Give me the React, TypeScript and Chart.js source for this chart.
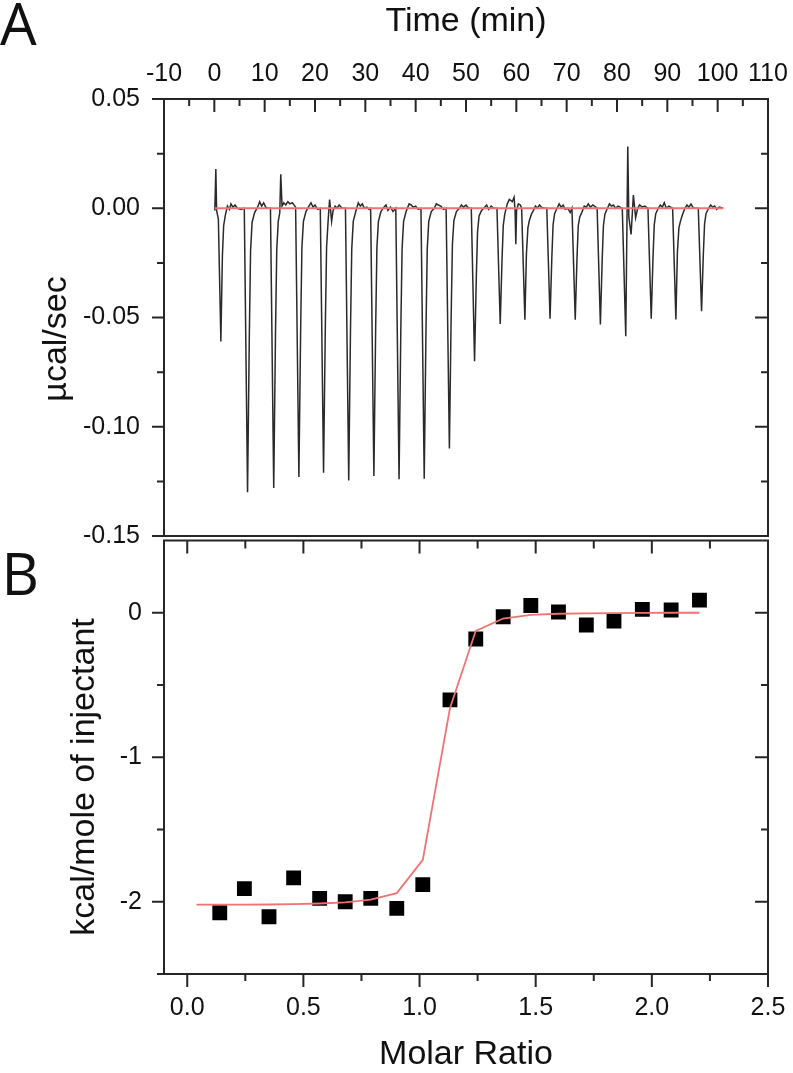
import React, { useEffect, useRef } from 'react';
import { Chart, registerables } from 'chart.js';

Chart.register(...registerables);

// ---------------- Panel A : raw ITC thermogram ----------------
const timeMajorTicks = [-10, 0, 10, 20, 30, 40, 50, 60, 70, 80, 90, 100, 110];
const timeMinorTicks = [-5, 5, 15, 25, 35, 45, 55, 65, 75, 85, 95, 105];
const powerMajorTicks = [-0.15, -0.1, -0.05, 0, 0.05];
const powerMinorTicks = [-0.125, -0.075, -0.025, 0.025];

const baselineTime = [0.1, 101.1];
const baselinePower = [0, 0];

// [time (min), power (µcal/sec)]
const thermogram: [number, number][] = [
  [0.1, -0.001], [0.3, 0.018], [0.45, -0.001], [0.8, -0.005], [1.3, -0.061], [1.6, -0.022], [1.85, -0.008], [2.2, -0.003], [2.6, 0.001], [3.0, -0.0005], [3.3, 0.002], [3.7, 0.0005], [4.1, 0.0015], [4.6, 0.0], [5.3, -0.0005], [5.95, 0.0],
  [6.6, -0.13], [6.95, -0.0585], [7.2, -0.0195], [7.5, -0.0065], [8.0, -0.002], [8.6, 0.0005], [9.0, 0.003], [9.4, 0.001], [9.8, 0.0025], [10.2, 0.0005], [10.6, 0.0], [11.15, 0.0],
  [11.8, -0.128], [12.15, -0.0576], [12.4, -0.019], [12.7, -0.006], [13.0, -0.002], [13.2, 0.0155], [13.45, 0.001], [13.8, 0.0025], [14.2, 0.0015], [14.6, 0.003], [15.0, 0.002], [15.5, 0.0025], [16.15, 0.0005],
  [16.8, -0.123], [17.15, -0.0554], [17.4, -0.018], [17.7, -0.006], [18.2, -0.0015], [18.8, 0.001], [19.2, 0.0025], [19.6, 0.0005], [20.0, 0.0015], [20.5, -0.0005], [21.05, 0.0],
  [21.7, -0.121], [22.05, -0.0545], [22.3, -0.018], [22.6, -0.006], [22.9, 0.004], [23.3, -0.006], [23.6, -0.001], [24.0, 0.001], [24.4, 0.0], [24.8, 0.0015], [25.4, 0.0], [26.05, 0.0],
  [26.7, -0.1246], [27.05, -0.056], [27.3, -0.0187], [27.6, -0.006], [28.1, -0.0015], [28.6, 0.0025], [29.0, 0.001], [29.4, 0.002], [29.8, 0.0], [30.3, 0.0005], [30.7, -0.0005], [31.05, 0.0],
  [31.7, -0.1225], [32.05, -0.055], [32.3, -0.018], [32.6, -0.006], [33.1, -0.0015], [33.7, 0.0005], [34.1, 0.0015], [34.5, -0.001], [35.0, 0.0005], [35.5, -0.0015], [36.05, 0.0],
  [36.7, -0.124], [37.05, -0.0558], [37.3, -0.0186], [37.6, -0.006], [38.1, -0.0015], [38.7, 0.002], [39.1, 0.0015], [39.5, 0.0005], [40.0, 0.001], [40.5, -0.0005], [41.05, 0.0],
  [41.7, -0.1238], [42.05, -0.0557], [42.3, -0.0186], [42.6, -0.006], [43.1, -0.0015], [43.7, 0.0], [44.1, 0.002], [44.5, 0.0015], [45.0, 0.001], [45.5, -0.0005], [46.05, 0.0],
  [46.7, -0.11], [47.05, -0.0495], [47.3, -0.0165], [47.6, -0.0055], [48.1, -0.0015], [48.7, 0.0], [49.1, 0.0015], [49.5, 0.0005], [50.0, 0.0015], [50.5, 0.0], [51.05, 0.0],
  [51.7, -0.07], [52.05, -0.0315], [52.3, -0.0105], [52.6, -0.0035], [53.1, -0.001], [53.7, 0.0005], [54.1, 0.0015], [54.5, -0.0005], [55.0, 0.001], [55.5, 0.0], [56.15, 0.0],
  [56.8, -0.053], [57.15, -0.024], [57.4, -0.008], [57.7, -0.0027], [58.2, 0.002], [58.6, 0.004], [59.2, 0.003], [59.55, 0.005], [59.75, -0.001], [59.9, -0.0165], [60.05, -0.001], [60.4, 0.002], [60.8, 0.0015], [61.05, 0.0],
  [61.7, -0.051], [62.0, -0.021], [62.3, -0.009], [62.6, -0.0055], [63.0, -0.0027], [63.4, -0.001], [63.8, 0.001], [64.2, 0.0], [64.6, 0.0015], [65.0, 0.0005], [65.5, 0.0], [66.05, 0.0],
  [66.7, -0.0506], [67.05, -0.0228], [67.3, -0.0076], [67.6, -0.0025], [68.1, 0.0], [68.5, 0.002], [68.9, 0.0005], [69.3, 0.0015], [69.7, -0.0005], [70.2, 0.0], [70.7, -0.002], [71.05, 0.0],
  [71.7, -0.051], [72.05, -0.023], [72.3, -0.008], [72.6, -0.004], [73.0, -0.002], [73.5, 0.001], [73.9, 0.0005], [74.3, 0.002], [74.7, 0.0005], [75.2, 0.0015], [76.05, 0.0],
  [76.7, -0.0532], [77.05, -0.024], [77.3, -0.008], [77.6, -0.0027], [78.1, 0.0], [78.5, 0.002], [78.9, 0.001], [79.3, 0.0015], [79.7, 0.0], [80.2, 0.001], [81.05, 0.0],
  [81.74, -0.0586], [82.14, 0.0283], [82.35, -0.004], [82.8, -0.012], [83.25, 0.006], [83.7, -0.0043], [84.1, 0.0], [84.5, 0.0015], [85.0, 0.0005], [85.5, 0.001], [86.15, 0.0],
  [86.8, -0.0506], [87.15, -0.0228], [87.4, -0.0076], [87.7, -0.0025], [88.2, 0.0], [88.6, 0.0015], [89.0, 0.0005], [89.4, 0.0025], [89.8, 0.0], [90.3, 0.001], [91.05, 0.0],
  [91.7, -0.0509], [92.0, -0.02], [92.3, -0.009], [92.6, -0.006], [93.0, -0.003], [93.5, 0.0], [93.9, 0.0015], [94.3, 0.0005], [94.7, 0.002], [95.2, 0.0], [96.15, 0.0],
  [96.8, -0.0471], [97.15, -0.0212], [97.4, -0.007], [97.7, -0.0024], [98.2, 0.0], [98.6, 0.0015], [99.0, 0.0005], [99.4, 0.001], [99.8, -0.0005], [100.3, 0.0005], [101.1, 0.0],
];

// ---------------- Panel B : integrated heats ----------------
const ratioMajorTicks = [0, 0.5, 1, 1.5, 2, 2.5];
const ratioMinorTicks = [0.25, 0.75, 1.25, 1.75, 2.25];
const heatMajorTicks = [-2, -1, 0];
const heatMinorTicks = [-2.5, -1.5, -0.5];

const molarRatio = [0.14, 0.246, 0.352, 0.458, 0.57, 0.68, 0.79, 0.902, 1.014, 1.131, 1.242, 1.36, 1.479, 1.598, 1.718, 1.837, 1.959, 2.083, 2.205];
const heatPerMole = [-2.076, -1.909, -2.104, -1.835, -1.977, -2.0, -1.977, -2.046, -1.881, -0.603, -0.182, -0.028, 0.05, 0.005, -0.085, -0.057, 0.023, 0.019, 0.087];

const fitRatio = [0.04, 0.14, 0.246, 0.352, 0.458, 0.57, 0.68, 0.79, 0.902, 1.014, 1.131, 1.242, 1.36, 1.479, 1.598, 1.718, 1.837, 1.959, 2.083, 2.205];
const fitHeat = [-2.02, -2.02, -2.02, -2.019, -2.017, -2.012, -2.004, -1.985, -1.94, -1.71, -0.66, -0.125, -0.04, -0.015, -0.007, -0.004, -0.002, -0.001, 0, 0];

// ---------------- shared styling ----------------
const FONT = '"Liberation Sans", Arial, Helvetica, sans-serif';
const INK = '#111';
const FRAME = '#262626';
const FIT_RED = '#f07272';

type TickSpec = { axis: string; side: 'top' | 'bottom' | 'left' | 'right'; values: number[]; len: number; inward: boolean };
type TextSpec = { text: string; x: number; y: number; font: string; rotate?: number; align?: CanvasTextAlign; baseline?: CanvasTextBaseline };

const frameTicks = {
  id: 'frameTicks',
  afterDraw(chart: any, _args: any, opts: any) {
    const { ctx, chartArea } = chart;
    const { left, right, top, bottom } = chartArea;
    ctx.save();
    ctx.strokeStyle = FRAME;
    ctx.lineWidth = 2;
    ctx.lineCap = 'butt';
    ctx.strokeRect(left, top, right - left, bottom - top);
    ctx.beginPath();
    for (const s of (opts.ticks || []) as TickSpec[]) {
      const scale = chart.scales[s.axis];
      for (const v of s.values) {
        const p = scale.getPixelForValue(v);
        if (s.side === 'top') {
          ctx.moveTo(p, top);
          ctx.lineTo(p, top + (s.inward ? s.len : -s.len));
        } else if (s.side === 'bottom') {
          ctx.moveTo(p, bottom);
          ctx.lineTo(p, bottom + (s.inward ? -s.len : s.len));
        } else if (s.side === 'left') {
          ctx.moveTo(left, p);
          ctx.lineTo(left + (s.inward ? s.len : -s.len), p);
        } else {
          ctx.moveTo(right, p);
          ctx.lineTo(right + (s.inward ? -s.len : s.len), p);
        }
      }
    }
    ctx.stroke();
    for (const t of (opts.texts || []) as TextSpec[]) {
      ctx.save();
      ctx.font = t.font;
      ctx.fillStyle = INK;
      ctx.textAlign = t.align || 'center';
      ctx.textBaseline = t.baseline || 'middle';
      ctx.translate(t.x, t.y);
      if (t.rotate) ctx.rotate(t.rotate);
      ctx.fillText(t.text, 0, 0);
      ctx.restore();
    }
    ctx.restore();
  },
};

const tickFont = { family: FONT, size: 25 };
const titleFont = { family: FONT, size: 34, lineHeight: 1 };

// fix the scale box size and drop the label overhang padding so the plot area lands exactly
const fixBox = (w: number | null, h: number | null) => (s: any) => {
  if (w !== null) s.width = w;
  if (h !== null) s.height = h;
  s.paddingTop = 0;
  s.paddingBottom = 0;
  s.paddingLeft = 0;
  s.paddingRight = 0;
};

function topConfig(): any {
  return {
    type: 'scatter',
    data: {
      datasets: [
        {
          data: baselineTime.map((t, i) => ({ x: t, y: baselinePower[i] })),
          showLine: true,
          borderColor: FIT_RED,
          borderWidth: 1.8,
          pointRadius: 0,
        },
        {
          data: thermogram.map(([t, p]) => ({ x: t, y: p })),
          showLine: true,
          borderColor: '#2a2a2a',
          borderWidth: 1.5,
          pointRadius: 0,
        },
      ],
    },
    options: {
      responsive: false,
      animation: false,
      devicePixelRatio: 1,
      events: [],
      layout: { padding: { left: 0, right: 25, top: 0, bottom: 24 } },
      plugins: {
        legend: { display: false },
        tooltip: { enabled: false },
        frameTicks: {
          ticks: [
            { axis: 'x', side: 'top', values: timeMajorTicks, len: 13, inward: true },
            { axis: 'x', side: 'top', values: timeMinorTicks, len: 7, inward: true },
            { axis: 'y', side: 'left', values: powerMajorTicks, len: 12, inward: false },
            { axis: 'y', side: 'left', values: powerMinorTicks, len: 7, inward: false },
            { axis: 'y', side: 'right', values: powerMajorTicks, len: 13, inward: true },
            { axis: 'y', side: 'right', values: powerMinorTicks, len: 7, inward: true },
          ],
          texts: [
            { text: 'µcal/sec', x: 57, y: 339, font: `34px ${FONT}`, rotate: -Math.PI / 2 },
            { text: 'A', x: 0, y: 45, font: `58px "Open Sans", ${FONT}`, align: 'left', baseline: 'alphabetic' },
          ],
        },
      },
      scales: {
        x: {
          type: 'linear',
          position: 'top',
          min: -10,
          max: 110,
          grid: { display: false, drawTicks: false },
          border: { display: false },
          ticks: {
            stepSize: 10,
            autoSkip: false,
            maxRotation: 0,
            padding: 10,
            color: INK,
            font: tickFont,
            callback: (v: any) => String(v),
          },
          title: { display: true, text: 'Time (min)', color: INK, font: titleFont, padding: { top: 5, bottom: 0 } },
          afterFit: fixBox(null, 99),
        },
        y: {
          type: 'linear',
          position: 'left',
          min: -0.15,
          max: 0.05,
          grid: { display: false, drawTicks: false },
          border: { display: false },
          ticks: {
            stepSize: 0.05,
            padding: 24,
            color: INK,
            font: tickFont,
            callback: (v: any) => Number(v).toFixed(2),
          },
          afterFit: fixBox(164, null),
        },
      },
    },
  };
}

function bottomConfig(): any {
  return {
    type: 'scatter',
    data: {
      datasets: [
        {
          data: fitRatio.map((r, i) => ({ x: r, y: fitHeat[i] })),
          showLine: true,
          borderColor: FIT_RED,
          borderWidth: 1.8,
          pointRadius: 0,
        },
        {
          data: molarRatio.map((r, i) => ({ x: r, y: heatPerMole[i] })),
          showLine: false,
          pointStyle: 'rect',
          pointRadius: 10.5,
          backgroundColor: '#000',
          borderColor: '#000',
          borderWidth: 0,
        },
      ],
    },
    options: {
      responsive: false,
      animation: false,
      devicePixelRatio: 1,
      events: [],
      layout: { padding: { left: 0, right: 25, top: 6, bottom: 0 } },
      plugins: {
        legend: { display: false },
        tooltip: { enabled: false },
        frameTicks: {
          ticks: [
            { axis: 'x', side: 'top', values: ratioMajorTicks, len: 13, inward: true },
            { axis: 'x', side: 'top', values: ratioMinorTicks, len: 8, inward: true },
            { axis: 'x', side: 'bottom', values: ratioMajorTicks, len: 13, inward: false },
            { axis: 'x', side: 'bottom', values: ratioMinorTicks, len: 7, inward: false },
            { axis: 'y', side: 'left', values: heatMajorTicks, len: 12, inward: false },
            { axis: 'y', side: 'left', values: heatMinorTicks, len: 7, inward: false },
            { axis: 'y', side: 'right', values: heatMajorTicks, len: 13, inward: true },
            { axis: 'y', side: 'right', values: heatMinorTicks, len: 7, inward: true },
          ],
          texts: [
            { text: 'kcal/mole of injectant', x: 85, y: 247, font: `34px ${FONT}`, rotate: -Math.PI / 2 },
            { text: 'B', x: 1.5, y: 65, font: `58px "Open Sans", ${FONT}`, align: 'left', baseline: 'alphabetic' },
          ],
        },
      },
      scales: {
        x: {
          type: 'linear',
          position: 'bottom',
          min: -0.1,
          max: 2.5,
          grid: { display: false, drawTicks: false },
          border: { display: false },
          ticks: {
            stepSize: 0.5,
            includeBounds: false,
            autoSkip: false,
            maxRotation: 0,
            padding: 19,
            color: INK,
            font: tickFont,
            callback: (v: any) => Number(v).toFixed(1),
          },
          title: { display: true, text: 'Molar Ratio', color: INK, font: titleFont, padding: { top: 0, bottom: 1 } },
          afterFit: fixBox(null, 99),
        },
        y: {
          type: 'linear',
          position: 'left',
          min: -2.5,
          max: 0.5,
          grid: { display: false, drawTicks: false },
          border: { display: false },
          ticks: {
            stepSize: 0.5,
            padding: 22,
            color: INK,
            font: tickFont,
            callback: (v: any) => (Number.isInteger(Number(v)) ? String(Number(v) === 0 ? 0 : v) : ''),
          },
          afterFit: fixBox(164, null),
        },
      },
    },
  };
}

export default function App() {
  const topRef = useRef<HTMLCanvasElement | null>(null);
  const bottomRef = useRef<HTMLCanvasElement | null>(null);

  useEffect(() => {
    if (!topRef.current || !bottomRef.current) return;
    const top = new Chart(topRef.current, { ...topConfig(), plugins: [frameTicks] });
    const bottom = new Chart(bottomRef.current, { ...bottomConfig(), plugins: [frameTicks] });
    return () => {
      top.destroy();
      bottom.destroy();
    };
  }, []);

  return (
    <div style={{ background: '#fff' }}>
      <canvas
        ref={topRef}
        width={793}
        height={560}
        style={{ position: 'absolute', left: 0, top: 0, width: 793, height: 560 }}
      />
      <canvas
        ref={bottomRef}
        width={793}
        height={543}
        style={{ position: 'absolute', left: 0, top: 530, width: 793, height: 543 }}
      />
    </div>
  );
}
